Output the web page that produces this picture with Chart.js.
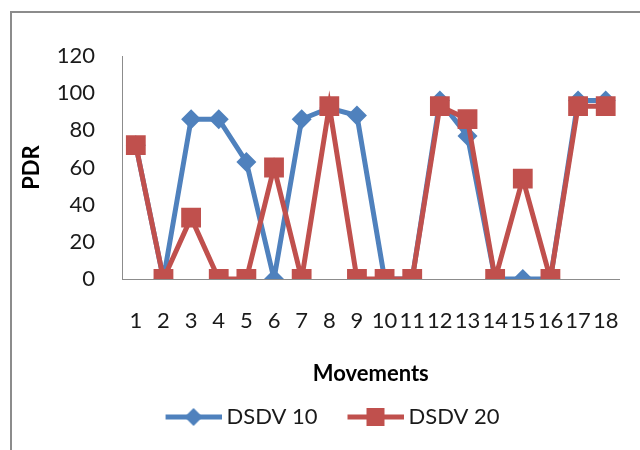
<!DOCTYPE html>
<html>
<head>
<meta charset="utf-8">
<script src="https://cdn.jsdelivr.net/npm/chart.js@4.4.0/dist/chart.umd.min.js"></script>
<style>
  body { margin: 0; background: #fff; }
  #wrap { position: relative; width: 640px; height: 450px; overflow: hidden; }
  #frame { position: absolute; left: 10px; top: 11px; width: 700px; height: 500px; border: 2px solid #8c8c8c; }
  #chart { position: absolute; left: 0; top: 0; }
</style>
</head>
<body>
<div id="wrap">
  <div id="frame"></div>
  <canvas id="chart" width="640" height="450"></canvas>
</div>
<script>
// data
var movements = ['1','2','3','4','5','6','7','8','9','10','11','12','13','14','15','16','17','18'];
var dsdv10 = [72, 0, 86, 86, 63, 0, 86, 92, 88, 0, 0, 96, 77, 0, 0, 0, 96, 96];
var dsdv20 = [72, 0, 33, 0, 0, 60, 0, 93, 0, 0, 0, 93, 86, 0, 54, 0, 93, 93];
var yTicks = [0, 20, 40, 60, 80, 100, 120];

var blue = '#4f81bd';
var red = '#c0504d';
var fontFam = 'Lato, "Open Sans", sans-serif';

// legend swatch: line with marker in the middle, like the excel legend
// (left part transparent so the two items sit further apart)
function swatch(color, shape) {
    var c = document.createElement('canvas');
    c.width = 82; c.height = 20;
    var g = c.getContext('2d');
    g.strokeStyle = color;
    g.lineWidth = 5;
    g.beginPath(); g.moveTo(26, 10); g.lineTo(82, 10); g.stroke();
    g.fillStyle = color;
    if (shape === 'diamond') {
        g.beginPath(); g.moveTo(54, 1); g.lineTo(63, 10); g.lineTo(54, 19); g.lineTo(45, 10); g.closePath(); g.fill();
    } else {
        g.fillRect(45, 1, 18, 18);
    }
    return c;
}

var ctx = document.getElementById('chart');

var chart = new Chart(ctx, {
    type: 'line',
    data: {
        labels: movements,
        datasets: [{
            label: 'DSDV 10',
            data: dsdv10,
            borderColor: blue,
            backgroundColor: blue,
            borderWidth: 5,
            pointStyle: 'rectRot',
            pointRadius: 10,
            pointHoverRadius: 10,
            pointBorderWidth: 0,
            tension: 0,
            order: 2,
            legendImg: swatch(blue, 'diamond')
        }, {
            label: 'DSDV 20',
            data: dsdv20,
            borderColor: red,
            backgroundColor: red,
            borderWidth: 5,
            pointStyle: 'rect',
            pointRadius: 14,
            pointHoverRadius: 14,
            pointBorderWidth: 0,
            tension: 0,
            order: 1,
            legendImg: swatch(red, 'square')
        }]
    },
    options: {
        responsive: false,
        animation: false,
        layout: { padding: { top: 56, right: 19, bottom: 12, left: 24 } },
        plugins: {
            tooltip: { enabled: false },
            legend: {
                position: 'bottom',
                labels: {
                    usePointStyle: true,
                    pointStyleWidth: 70,
                    padding: 10,
                    color: '#1a1a1a',
                    font: { family: fontFam, size: 22 },
                    generateLabels: function(chart) {
                        return chart.data.datasets.map(function(ds, i) {
                            return {
                                text: ds.label,
                                datasetIndex: i,
                                pointStyle: ds.legendImg,
                                fillStyle: ds.backgroundColor,
                                strokeStyle: ds.borderColor,
                                lineWidth: 0,
                                fontColor: '#1a1a1a'
                            };
                        });
                    }
                }
            }
        },
        scales: {
            x: {
                offset: true,
                grid: { display: false },
                border: { display: true, color: '#8c8c8c', width: 1 },
                ticks: { color: '#1a1a1a', padding: 21, maxRotation: 0, autoSkip: false, font: { family: fontFam, size: 22 } },
                title: { display: true, text: 'Movements', color: '#000', padding: { top: 0, bottom: 9 }, font: { family: fontFam, size: 22, weight: 'bold' } },
                afterFit: function(scale) { scale.height = 117; }
            },
            y: {
                min: 0,
                max: 120,
                afterBuildTicks: function(scale) {
                    scale.ticks = yTicks.map(function(v) { return { value: v }; });
                },
                grid: { display: false },
                border: { display: true, color: '#8c8c8c', width: 1 },
                ticks: { color: '#1a1a1a', padding: 19, font: { family: fontFam, size: 22 } },
                title: { display: true, text: 'PDR', color: '#000', padding: { top: -5, bottom: 0 }, font: { family: fontFam, size: 22, weight: 'bold' } },
                afterFit: function(scale) { scale.width = 98; }
            }
        }
    }
});
</script>
</body>
</html>
